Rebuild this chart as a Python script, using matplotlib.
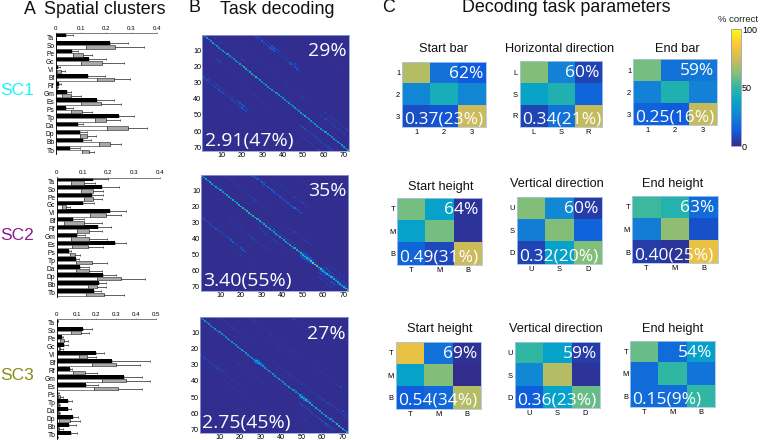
import numpy as np
import matplotlib
matplotlib.use("Agg")
import matplotlib.pyplot as plt
from matplotlib.colors import LinearSegmentedColormap

W, H = 760, 440
plt.rcParams['font.family'] = ['Liberation Sans', 'DejaVu Sans']

areas = ['Ta','So','Pe','Gc','Vl','Bf','Rf','Gm','Es','Ps','Tp','Da','Dp','Bb','Tb']

sc1_black = [.04,.215,.065,.13,.008,.128,.012,.045,.165,.04,.252,.09,.095,.108,.055]
sc1_black_err = [.07,.285,.09,.20,.018,.197,.02,.06,.232,.067,.31,.11,.125,.14,.095]
sc1_white = [0,.12,.07,.10,.005,.165,.003,.025,.10,.06,.155,.205,.095,.17,.105]
sc1_gray = [0,.235,.11,.185,.02,.23,.006,.062,.18,.105,.20,.285,.125,.215,.13]
sc1_gray_err = [0,.35,.145,.27,.035,.295,.01,.10,.26,.145,.255,.36,.16,.26,.15]

sc2_black = [.14,.175,.135,.10,.205,.065,.16,.08,.225,.047,.075,.09,.18,.165,.145]
sc2_black_err = [.20,.24,.18,.145,.27,.105,.21,.11,.27,.055,.088,.125,.23,.19,.17]
sc2_white = [.055,.095,.105,.02,.13,.03,.08,.055,.06,.05,.075,.075,.155,.12,.115]
sc2_gray = [.105,.14,.14,.035,.19,.105,.125,.125,.12,.07,.135,.125,.25,.155,.185]
sc2_gray_err = [.15,.18,.175,.05,.25,.175,.175,.195,.18,.09,.195,.175,.34,.19,.26]

sc3_black = [.005,.13,.028,.038,.20,.28,.065,.34,.15,.008,.055,.055,.08,.062,.072]
sc3_black_err = [.007,.18,.033,.058,.237,.47,.075,.43,.21,.012,.075,.073,.107,.095,.10]
sc3_white = [0,.07,.015,.01,.11,.18,.08,.23,.19,.005,.005,.005,.01,.005,0]
sc3_gray = [0,.12,.035,.018,.155,.30,.14,.35,.31,.018,.012,.012,.065,.013,.003]
sc3_gray_err = [0,.165,.055,.03,.20,.42,.205,.47,.43,.03,.018,.018,.118,.03,.006]

bar_ticks_a = [0,0.1,0.2,0.3,0.4]
bar_ticks_b = [0,0.1,0.2,0.3,0.4,0.5]
cluster_names = ['SC1','SC2','SC3']
cluster_colors = ['#19f5f5','#8e1a8e','#8a8a12']

task_overall = ['29%','35%','27%']
task_info = ['2.91(47%)','3.40(55%)','2.75(45%)']
task_ticks = [10,20,30,40,50,60,70]
background_level = 1.5

diag_1 = [30,28,32,26,30,34,28,30,26,32,28,30,34,26,30,28,32,30,36,40,44,42,38,40,36,42,46,38,34,30,32,28,30,34,30,26,
          28,30,32,30,28,36,34,30,28,32,30,28,34,44,42,40,30,34,28,30,32,28,30,34,36,30,32,28,30,34,32,30,36,38,34,30]
diag_2 = [36,34,38,36,40,34,32,36,38,34,32,36,38,34,36,40,38,36,42,44,46,48,44,46,50,46,42,40,44,42,40,38,42,36,38,36,
          38,40,36,34,38,36,40,36,38,42,44,48,46,44,48,50,52,58,62,60,56,48,52,44,42,46,40,44,42,38,40,44,42,46,50,44]
diag_3 = [24,28,32,30,26,24,28,30,26,24,28,26,24,28,26,30,28,32,30,36,38,40,36,34,30,28,32,36,38,34,30,32,34,28,26,30,
          32,28,30,28,26,30,32,34,36,30,32,34,38,44,48,50,46,40,36,34,38,36,32,30,34,36,32,30,34,36,44,48,42,38,36,34]

bands_1 = [
    (0, 25, [10,14,8,5,12,9,6,8,18,20,14,7,5,4,6,3,5,14,16,8,10,12,11,4]),
    (0, 27, [3,6,2,4,2,3,5,2,8,10,5,2,2,3,2,2,4,12,14,4,3,2]),
    (7, 27, [11,16,14,5,3,2,2,4,2,3,4,8,5]),
    (26, -26, [14,16,10,5,4,6,8,5,12,14,8,4,3,6,8,10,6,5,8,16,14,10]),
    (27, -24, [12,4,3,8,6,4,3,2,6,3,2,4,3,2,8,14,18,12,4,8]),
    (49, 8, [4,6,3,8,5,4,6,8,4,5,7,4,6,4,3,5]),
    (48, 12, [4,3,5,8,4,3,6,5,4,4,6,8,4,5]),
    (56, -8, [8,12,10,6,5,4,8,6,5,10,8,6,5,10,12,6]),
    (60, -14, [3,4,2,4,6,3,4,5,4,3,6,8]),
    (1, 4, [2,4,2,3,5,2,2,3,4,2,4,2,3,2,4,5,2,3]),
    (3, 12, [3,2,2,4,2,2,4,3,2,2,5,3,2,4,2,2,3,4,2,2,4,2]),
    (12, -8, [3,2,4,5,8,6,3,2,2,4,2,2,3,2,4,2,3,4]),
    (30, 10, [2,4,2,3,2,4,2,2,3,5,2,2,4,2,3]),
    (30, -12, [2,3,2,4,2,2,4,5,2,3,2,2,4,2,3]),
    (2, 48, [2,2,1,3,2,1,2,4,2,1,2,2,3,1,2,3,1,2,4]),
    (42, -32, [2,3,2,2,4,2,1,3,2,2,1,3,2,2,4,1,2,3]),
]
bands_2 = [
    (0, 25, [14,18,12,10,16,14,8,12,20,16,14,10,8,12,10,8,14,12,10,16,18,12,8,10]),
    (0, 11, [4,2,5,3,4,2,6,4,5,3,2,4,4,5,6,8,5,4,4,3,4,5]),
    (3, 32, [2,4,3,5,4,2,4,3,4,2,5,4,3,6,8,5,4,2,3]),
    (26, -26, [12,10,6,4,8,5,10,12,8,6,4,5,8,10,14,12,8,6,5,10,14,12]),
    (27, -14, [3,4,2,4,3,5,4,4,3,2,4,8,10,6,4,3,4,6,5,4,3]),
    (28, 2, [4,2,3,5,4,8,6,4,4,3,5,6,4,4,3,4,2,4,3,2]),
    (30, 10, [3,2,4,5,8,6,4,3,2,4,5,7,4,3,4]),
    (32, -5, [2,4,5,3,8,4,3,4,6,5,3,2,4,4,3,2]),
    (48, 1, [8,10,8,12,10,8,6,5]),
    (49, -1, [10,8,12,14,10,8,5]),
    (48, 2, [6,10,8,10,6,4]),
    (50, -2, [12,10,8,6,4]),
    (57, 1, [10,12,10,8,12,10,6,8,5,4,4,8,10,12,8]),
    (58, -1, [8,10,12,10,8,6,5,4,6,8,10,8,12]),
    (57, 3, [6,8,8,6,5,4,3,4,5,8,6]),
    (60, -3, [8,8,6,4,4,5,8,10,6]),
    (57, 6, [4,5,4,3,4,3,4,3,4]),
    (63, -6, [4,5,4,3,5,4,4,3]),
    (1, 46, [2,3,1,2,2,4,1,2,3,1,2,2,3,1,2]),
    (44, -30, [2,3,4,2,2,4,1,2,3,2,2,3,2,1,2]),
]
bands_3 = [
    (0, 24, [4,3,5,2,4,3,4,2,3,4,5,4,3,2,4,3,4,2,3,4,2,4,3,2]),
    (23, -23, [6,4,8,5,4,5,4,6,8,10,5,4,4,3,4,5,4,3,4,4,3,2,3]),
    (0, 9, [4,3,4,2,3,4,10,5,4,3,2,4,3,4,2,3,4,3]),
    (1, 44, [10,3,2,2,3,2,4,2,3,2,1,2,3,2,2,4,2,2]),
    (27, 8, [3,4,4,5,4,4,3,4,6,5,4,4,5,4,6,5,4,4,5,4,3,4,4,5,4,3]),
    (26, -10, [4,3,5,4,2,3,4,4,3,2,4,4,3,5,4,3]),
    (26, 1, [10,14,16,12,6]),
    (27, -1, [12,16,14,8]),
    (48, 1, [10,14,18,14,8,4]),
    (49, -1, [12,16,14,8,4]),
    (53, -5, [6,10,8,5,10,8,6,4,5,8,10,8,12,14,10,8,5,4]),
    (49, 9, [4,5,8,4,10,5,4,4,8,5,4,6,5,4,4]),
    (58, 11, [10,4,4,8,10,6,5,3]),
    (60, -13, [3,4,2,4,5,3,4,2,5,4,4,3]),
    (30, 25, [2,3,4,2,8,2,2,4,2,3,2,4,3,8,2,2]),
    (8, 20, [2,4,2,3,2,4,2,2,3,2,4,2,3,2,2,3]),
    (40, -28, [2,4,2,3,5,2,2,3,2,4,2,2,3,2]),
]
task_diags = [diag_1, diag_2, diag_3]
task_bands = [bands_1, bands_2, bands_3]

conf_titles = [['Start bar','Horizontal direction','End bar'],
               ['Start height','Vertical direction','End height'],
               ['Start height','Vertical direction','End height']]
conf_labels = [[['1','2','3'],['L','S','R'],['1','2','3']],
               [['T','M','B'],['U','S','D'],['T','M','B']],
               [['T','M','B'],['U','S','D'],['T','M','B']]]
conf_values = [
    [[[70,20,13],[27,43,27],[9,11,74]],
     [[62,25,7],[38,46,16],[7,20,73]],
     [[60,20,22],[25,46,25],[15,13,73]]],
    [[[60,37,3],[37,60,3],[16,8,74]],
     [[62,28,5],[24,62,15],[7,37,62]],
     [[52,47,18],[24,64,10],[5,3,82]]],
    [[[82,20,2],[37,62,1],[14,17,70]],
     [[50,37,5],[28,70,3],[14,37,58]],
     [[58,18,36],[18,50,21],[18,18,50]]],
]
conf_overall = [['62%','60%','59%'],['64%','60%','63%'],['69%','59%','54%']]
conf_info = [['0.37(23%)','0.34(21%)','0.25(16%)'],
             ['0.49(31%)','0.32(20%)','0.40(25%)'],
             ['0.54(34%)','0.36(23%)','0.15(9%)']]
colorbar_ticks = [0,50,100]

parula = LinearSegmentedColormap.from_list('parula',
    ['#352a87','#0f5cdd','#1481d6','#06a4ca','#2eb7a4','#87bf77','#d1bb59','#fec832','#f9fb0e'])

fig = plt.figure(figsize=(7.6,4.4), dpi=100, facecolor='white')

def box(x0,y0,x1,y1):
    return fig.add_axes([x0/W, 1-y1/H, (x1-x0)/W, (y1-y0)/H])
def ftext(x,y,s,**kw):
    kw.setdefault('va','center')
    fig.text(x/W, 1-y/H, s, **kw)

# headings
for x,y,s,ha in [(24,9,'A','left'),(43.5,9,'Spatial clusters','left'),(188,8,'B','left'),
                 (220.5,9,'Task decoding','left'),(382,8,'C','left'),(566,8,'Decoding task parameters','center')]:
    ftext(x,y,s,fontsize=12.9,ha=ha,color='#111111')

# panel A
bar_rects = [(55.7,33.5,156.7,154.5),(56.7,177.5,160,297),(56.7,319,156,439)]
bar_data = [(sc1_black,sc1_black_err,sc1_white,sc1_gray,sc1_gray_err,bar_ticks_a),
            (sc2_black,sc2_black_err,sc2_white,sc2_gray,sc2_gray_err,bar_ticks_a),
            (sc3_black,sc3_black_err,sc3_white,sc3_gray,sc3_gray_err,bar_ticks_b)]
for rect,d,name,col,yc in zip(bar_rects,bar_data,cluster_names,cluster_colors,[90,235,376]):
    bk,bke,wh,gr,gre,tk = d
    ax = box(*rect)
    y = np.arange(len(areas))
    ax.set_xlim(tk[0],tk[-1]); ax.set_ylim(14.55,-0.45)
    ax.patch.set_alpha(0)
    wh=np.array(wh); gr=np.array(gr); gre=np.array(gre); bk=np.array(bk); bke=np.array(bke)
    ek=dict(ecolor='#333333',elinewidth=0.55,capsize=1.0,capthick=0.5)
    ax.errorbar(bk,y-0.24,xerr=[np.zeros(15),bke-bk],fmt='none',**ek)
    ax.errorbar(gr,y+0.24,xerr=[np.zeros(15),gre-gr],fmt='none',**ek)
    ax.barh(y-0.24,bk,height=0.5,color='black',lw=0)
    ax.barh(y+0.24,wh,height=0.44,color='white',edgecolor='#222222',lw=0.4)
    ax.barh(y+0.24,gr-wh,left=wh,height=0.44,color='#a8a8a8',edgecolor='#222222',lw=0.4)
    for s in ['right','bottom']: ax.spines[s].set_visible(False)
    ax.spines['top'].set_linewidth(0.6); ax.spines['top'].set_color('#666666')
    ax.spines['left'].set_linewidth(0.6)
    ax.xaxis.tick_top()
    ax.set_xticks(tk); ax.set_xticklabels([str(t) for t in tk],fontsize=4.4)
    ax.set_yticks(y); ax.set_yticklabels(areas,fontsize=4.8)
    ax.tick_params(axis='x',length=1,width=0.4,pad=0.8,color='#666666')
    ax.tick_params(axis='y',length=0,pad=1)
    ftext(0,yc,name,fontsize=12.5,ha='left',color=col)

# panel B
task_rects = [(202.3,34.7,349,151.3),(201,175,348.3,290.7),(200,317.3,347.7,433.3)]
for rect,dg,bands,a,b in zip(task_rects,task_diags,task_bands,task_overall,task_info):
    ax = box(*rect)
    m = np.full((72,72),float(background_level))
    for r0,off,vals in bands:
        for i,v in enumerate(vals):
            r,c = r0+i,r0+i+off
            if 0<=r<72 and 0<=c<72:
                m[r,c]=v
    m[np.arange(72),np.arange(72)] = dg
    ax.imshow(m,cmap=parula,vmin=0,vmax=100,aspect='auto',interpolation='nearest',
              extent=(0.5,72.5,72.5,0.5))
    ax.set_xticks(task_ticks); ax.set_yticks(task_ticks)
    ax.tick_params(labelsize=5.2,length=0,pad=0.6)
    for s in ax.spines.values():
        s.set_color('#8f9fd8'); s.set_linewidth(0.6)
    ax.text(0.985,0.86,a,transform=ax.transAxes,ha='right',va='center',color='white',
            fontsize=14,family='Open Sans')
    ax.text(0.015,0.085,b,transform=ax.transAxes,ha='left',va='center',color='white',
            fontsize=14,family='Open Sans',clip_on=False)

# panel C
conf_rects = [[(402.3,61.7,486,127.3),(519.7,61.3,602.3,126.7),(633.3,59.3,716.7,125)],
              [(397.3,197.7,481.7,265),(517,196.7,601.7,264),(632,195.7,717.7,263.3)],
              [(395.7,341.7,480.7,408.7),(514.7,341.7,599.7,408.3),(630.3,340.7,715,407.3)]]
title_xy = [[(443,49),(560,49),(677,48.5)],[(441,187),(557,184),(673,184)],[(440,329),(556,329),(673,329)]]
for i in range(3):
    for j in range(3):
        ax = box(*conf_rects[i][j])
        ax.imshow(np.array(conf_values[i][j],float),cmap=parula,vmin=0,vmax=100,aspect='auto',
                  interpolation='nearest')
        ax.set_xticks(range(3)); ax.set_yticks(range(3))
        ax.set_xticklabels(conf_labels[i][j]); ax.set_yticklabels(conf_labels[i][j])
        ax.tick_params(labelsize=5.4,length=0,pad=1.5)
        for s in ax.spines.values():
            s.set_color('#a9c4e8'); s.set_linewidth(0.6)
        ax.text(0.965,0.815,conf_overall[i][j],transform=ax.transAxes,ha='right',va='center',
                color='white',fontsize=12.5,family='Open Sans')
        ax.text(0.025,0.115,conf_info[i][j],transform=ax.transAxes,ha='left',va='center',
                color='white',fontsize=12.5,family='Open Sans')
        tx,ty = title_xy[i][j]
        ftext(tx,ty,conf_titles[i][j],fontsize=9.2,ha='center',color='#111111')

# colourbar
cax = box(730.7,29.3,740.7,146)
sm = plt.cm.ScalarMappable(cmap=parula,norm=plt.Normalize(0,100))
cb = fig.colorbar(sm,cax=cax,ticks=colorbar_ticks)
cb.ax.tick_params(labelsize=6.5,length=0,pad=1)
cb.outline.set_edgecolor('#9a9ac0'); cb.outline.set_linewidth(0.6)
ftext(738,19,'% correct',fontsize=6.8,ha='center',color='#222222')

fig.savefig('out.png',dpi=100)
